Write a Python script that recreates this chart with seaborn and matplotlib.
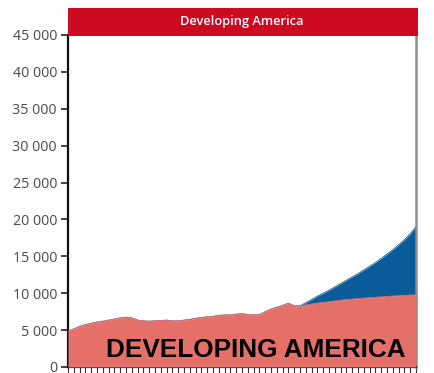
import matplotlib
matplotlib.use("Agg")
import matplotlib.pyplot as plt
from matplotlib.patches import Rectangle
from matplotlib.ticker import FixedLocator, FuncFormatter
import numpy as np
import pandas as pd
import seaborn as sns

# Annual values, 1990-2050
years = list(range(1990, 2051))

base = [
    4850, 5150, 5500, 5750, 5900, 6100, 6200, 6350, 6500, 6650,
    6750, 6650, 6350, 6250, 6200, 6250, 6300, 6350, 6250, 6250,
    6350, 6450, 6600, 6700, 6800, 6850, 7000, 7050, 7050, 7150,
    7250, 7100, 7050, 7100, 7500, 7850, 8100, 8350, 8650, 8300,
    8250, 8400, 8550, 8650, 8750, 8850, 8950, 9050, 9150, 9200,
    9270, 9330, 9400, 9450, 9500, 9560, 9620, 9670, 9710, 9750,
    9780,
]

total = [
    4850, 5150, 5500, 5750, 5900, 6100, 6200, 6350, 6500, 6650,
    6750, 6650, 6350, 6250, 6200, 6250, 6300, 6350, 6250, 6250,
    6350, 6450, 6600, 6700, 6800, 6850, 7000, 7050, 7050, 7150,
    7250, 7100, 7050, 7100, 7500, 7850, 8100, 8350, 8650, 8300,
    8300, 8700, 9150, 9600, 10000, 10400, 10850, 11300, 11750, 12200,
    12650, 13150, 13650, 14150, 14700, 15300, 15900, 16550, 17250, 18050,
    19000,
]

y_ticks = [0, 5000, 10000, 15000, 20000, 25000, 30000, 35000, 40000, 45000]

title = "Developing America"
banner = "DEVELOPING AMERICA"

df = pd.DataFrame({"year": years, "base": base, "total": total})

sns.set_theme(style="ticks")
plt.rcParams["font.family"] = ["Open Sans", "DejaVu Sans"]

fig = plt.figure(figsize=(4.34, 3.73), dpi=100)
ax = fig.add_axes([68 / 434, 1 - 367 / 373, 348 / 434, (367 - 35) / 373])

red = "#E5706A"
blue = "#0A5B98"

ax.fill_between(df["year"], df["base"], df["total"], color=blue, linewidth=0, zorder=2)
ax.fill_between(df["year"], 0, df["base"], color=red, linewidth=0, zorder=3)
sns.lineplot(data=df, x="year", y="total", ax=ax, color=blue, linewidth=0.6, zorder=2)
sns.lineplot(data=df, x="year", y="base", ax=ax, color=red, linewidth=0.6, zorder=3)

ax.set_xlim(years[0], years[-1])
ax.set_ylim(0, 45000)
ax.set_xlabel("")
ax.set_ylabel("")

ax.yaxis.set_major_locator(FixedLocator(y_ticks))
ax.yaxis.set_major_formatter(FuncFormatter(lambda v, p: f"{int(v):,}".replace(",", " ")))
ax.tick_params(axis="y", direction="out", length=5, width=1.2, color="#222222",
               labelsize=10.3, labelcolor="#4a4a4a", pad=3)

ax.xaxis.set_major_locator(FixedLocator(years))
ax.tick_params(axis="x", direction="out", length=4, width=0.8, color="#333333",
               labelbottom=False)

for side in ("left", "bottom"):
    ax.spines[side].set_color("#111111")
    ax.spines[side].set_linewidth(1.6)
ax.spines["right"].set_color("#8c8c8c")
ax.spines["right"].set_linewidth(1.8)
ax.spines["top"].set_visible(False)

# Title band across the top of the plot
fig.patches.append(Rectangle((68 / 434, 1 - 36 / 373), 350 / 434, 28 / 373,
                             transform=fig.transFigure, facecolor="#CC0A22",
                             edgecolor="none", zorder=5))
fig.text((68 + 416) / 2 / 434, 1 - 22 / 373, title, color="white", fontsize=9.3,
         fontweight="semibold", ha="center", va="center", zorder=6)

ax.text(0.97, 0.05, banner, transform=ax.transAxes, ha="right", va="center",
        fontsize=18.8, fontweight="bold", color="black",
        family=["Liberation Sans", "DejaVu Sans"], zorder=6)

fig.savefig("out.png", dpi=100)
